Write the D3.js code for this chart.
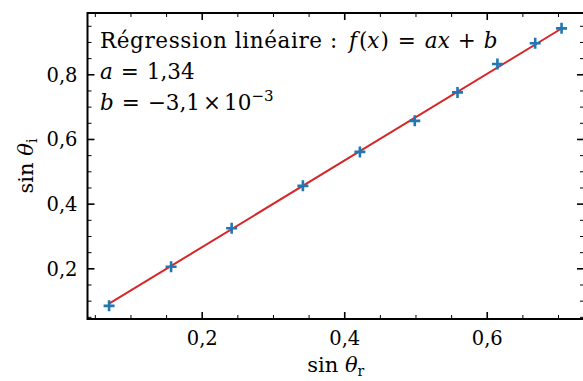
<html>
  <script src="https://d3js.org/d3.v7.min.js"></script>
  <style>
    body {
      margin: 0;
      background: white;
    }
    svg text {
      font-family: "DejaVu Serif", "Liberation Serif", serif;
      fill: black;
    }
    .tick line {
      stroke: black;
    }
    .domain {
      display: none;
    }
  </style>
  <body onload="main()">
    <svg width="583" height="381"></svg>
    <script>
      // sin(theta_r) and sin(theta_i)
      var sinR = [0.070, 0.157, 0.242, 0.342, 0.422, 0.499, 0.559, 0.615, 0.668, 0.705];
      var sinI = [0.084, 0.205, 0.324, 0.455, 0.560, 0.656, 0.744, 0.832, 0.896, 0.942];
      // fit parameters shown in the legend
      var fitA = 1.34;
      var fitB = -0.0031;
      var xMajor = [0.2, 0.4, 0.6];
      var yMajor = [0.2, 0.4, 0.6, 0.8];

      function main() {
        var left = 87.5,
          right = 584,
          top = 13,
          bottom = 319;

        var svg = d3.select("svg");

        var x = d3.scaleLinear().domain([0.0397, 0.7365]).range([left, right]);
        var y = d3.scaleLinear().domain([0.0433, 0.9895]).range([bottom, top]);

        var fmt = function (d) {
          return d3.format(".1f")(d).replace(".", ",");
        };
        var xMinor = d3.range(0.05, 0.74, 0.05).filter(function (d) {
          return Math.abs(d * 5 - Math.round(d * 5)) > 1e-6;
        });
        var yMinor = d3.range(0.05, 0.99, 0.05).filter(function (d) {
          return Math.abs(d * 5 - Math.round(d * 5)) > 1e-6;
        });

        // minor ticks, all four sides
        function minor(axis, pos) {
          svg
            .append("g")
            .attr("transform", pos)
            .call(axis.tickSize(-4).tickFormat(""))
            .selectAll(".tick line")
            .attr("stroke-width", 1);
        }
        minor(d3.axisBottom(x).tickValues(xMinor), "translate(0," + bottom + ")");
        minor(d3.axisTop(x).tickValues(xMinor), "translate(0," + top + ")");
        minor(d3.axisLeft(y).tickValues(yMinor), "translate(" + left + ",0)");
        minor(d3.axisRight(y).tickValues(yMinor), "translate(" + right + ",0)");

        // major ticks
        var gx = svg
          .append("g")
          .attr("transform", "translate(0," + bottom + ")")
          .call(d3.axisBottom(x).tickValues(xMajor).tickSize(-7).tickPadding(26).tickFormat(fmt));
        gx.selectAll("text").attr("font-size", 19.5).attr("dy", 0);
        svg
          .append("g")
          .attr("transform", "translate(0," + top + ")")
          .call(d3.axisTop(x).tickValues(xMajor).tickSize(-7).tickFormat(""));
        var gy = svg
          .append("g")
          .attr("transform", "translate(" + left + ",0)")
          .call(d3.axisLeft(y).tickValues(yMajor).tickSize(-7).tickPadding(10).tickFormat(fmt));
        gy.selectAll("text").attr("font-size", 19.5).attr("dy", "0.36em");
        svg
          .append("g")
          .attr("transform", "translate(" + right + ",0)")
          .call(d3.axisRight(y).tickValues(yMajor).tickSize(-7).tickFormat(""));
        svg.selectAll(".tick line").filter(function () {
          var a = Math.abs(+d3.select(this).attr("x2")), b = Math.abs(+d3.select(this).attr("y2"));
          return a == 7 || b == 7;
        }).attr("stroke-width", 1.6);

        // frame
        svg
          .append("rect")
          .attr("x", left)
          .attr("y", top)
          .attr("width", right - left)
          .attr("height", bottom - top)
          .attr("fill", "none")
          .attr("stroke", "black")
          .attr("stroke-width", 2);

        // fit line
        var x0 = d3.min(sinR),
          x1 = d3.max(sinR);
        svg
          .append("line")
          .attr("x1", x(x0))
          .attr("y1", y(fitA * x0 + fitB))
          .attr("x2", x(x1))
          .attr("y2", y(fitA * x1 + fitB))
          .attr("stroke", "#d62728")
          .attr("stroke-width", 2);

        // data markers
        var pts = sinR.map(function (d, i) {
          return [d, sinI[i]];
        });
        svg
          .append("g")
          .selectAll("path")
          .data(pts)
          .enter()
          .append("path")
          .attr("d", function (d) {
            var px = x(d[0]),
              py = y(d[1]),
              s = 5.5;
            return "M" + (px - s) + "," + py + "H" + (px + s) + "M" + px + "," + (py - s) + "V" + (py + s);
          })
          .attr("stroke", "#1f77b4")
          .attr("stroke-width", 2.6);

        // legend text
        var fs = 21.5;
        var t = svg.append("text").attr("x", 100).attr("y", 48).attr("font-size", fs);
        t.append("tspan").attr("letter-spacing", 0.6).text("Régression linéaire :");
        t.append("tspan").attr("dx", 11).attr("font-style", "italic").text("f");
        t.append("tspan").attr("dx", 2).text("(");
        t.append("tspan").attr("font-style", "italic").text("x");
        t.append("tspan").attr("dx", 1).text(")");
        t.append("tspan").attr("dx", 9).text("=");
        t.append("tspan").attr("dx", 9).attr("font-style", "italic").text("ax");
        t.append("tspan").attr("dx", 8).text("+");
        t.append("tspan").attr("dx", 8).attr("font-style", "italic").text("b");

        var t2 = svg.append("text").attr("x", 100).attr("y", 79).attr("font-size", fs);
        t2.append("tspan").attr("font-style", "italic").text("a");
        t2.append("tspan").attr("dx", 8).text("=");
        t2.append("tspan").attr("dx", 8).text("1,34");

        var t3 = svg.append("text").attr("x", 100).attr("y", 110).attr("font-size", fs);
        t3.append("tspan").attr("font-style", "italic").text("b");
        t3.append("tspan").attr("dx", 8).text("=");
        t3.append("tspan").attr("dx", 8).text("\u22123,1");
        t3.append("tspan").attr("dx", 3).text("\u00d7");
        t3.append("tspan").attr("dx", 3).text("10");
        t3.append("tspan").attr("dy", -9).attr("font-size", 15).text("\u22123");

        // axis labels
        var xl = svg
          .append("text")
          .attr("x", (left + right) / 2)
          .attr("y", 372)
          .attr("text-anchor", "middle")
          .attr("font-size", 21);
        xl.append("tspan").text("sin ");
        xl.append("tspan").attr("font-style", "italic").text("\u03b8");
        xl.append("tspan").attr("font-size", 14).attr("dy", 4).text("r");

        var yl = svg
          .append("text")
          .attr("transform", "translate(33," + (top + bottom) / 2 + ") rotate(-90)")
          .attr("text-anchor", "middle")
          .attr("font-size", 21);
        yl.append("tspan").text("sin ");
        yl.append("tspan").attr("font-style", "italic").text("\u03b8");
        yl.append("tspan").attr("font-size", 14).attr("dy", 4).text("i");
      }
    </script>
  </body>
</html>
